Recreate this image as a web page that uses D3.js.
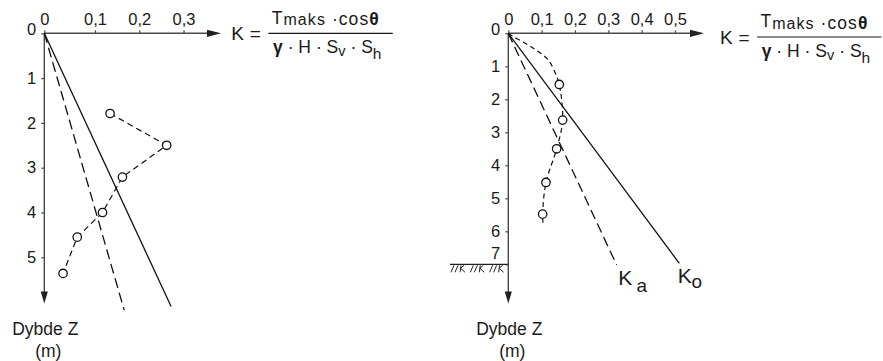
<!DOCTYPE html>
<html><head><meta charset="utf-8">
<script src="https://cdn.jsdelivr.net/npm/d3@7"></script>
<style>
body{margin:0;background:#fff}
svg{display:block}
text{font-family:"Liberation Sans",Arial,Helvetica,sans-serif;fill:#1a1a1a}
</style>
</head><body>
<svg id="c" width="883" height="361"></svg>
<script>
// ---------- DATA ----------
// Left panel
const leftXTicks = [0, 0.1, 0.2, 0.3];
const leftZTicks = [0, 1, 2, 3, 4, 5];
const leftMeasK = [0.134, 0.262, 0.162, 0.117, 0.065, 0.037];
const leftMeasZ = [1.79, 2.50, 3.21, 4.00, 4.55, 5.36];
const leftSolidK = [0, 0.272];
const leftSolidZ = [0, 6.10];
const leftDashK = [0, 0.166];
const leftDashZ = [0, 6.18];
// Right panel
const rightXTicks = [0, 0.1, 0.2, 0.3, 0.4, 0.5];
const rightZTicks = [0, 1, 2, 3, 4, 5, 6, 7];
const rightMeasK = [0.153, 0.163, 0.145, 0.113, 0.103];
const rightMeasZ = [1.55, 2.63, 3.50, 4.52, 5.48];
const rightTrendK = [0, 0.015, 0.075, 0.12, 0.145, 0.153, 0.163, 0.145, 0.113, 0.103, 0.104];
const rightTrendZ = [0, 0.1, 0.45, 0.81, 1.31, 1.55, 2.63, 3.50, 4.52, 5.48, 5.74];
const rightKoK = [0, 0.513];
const rightKoZ = [0, 6.97];
const rightKaK = [0, 0.325];
const rightKaZ = [0, 7.02];
const groundZ = 7;
const lineLabels = ["K", "a", "K", "o"];
const axisTitle = ["Dybde Z", "(m)"];

// ---------- DRAW ----------
const svg = d3.select("#c");
const AX = "#4a4a4a", INK = "#111";
const fmt = d => d === 0 ? "0" : d3.format(".1f")(d).replace(".", ",");
const zip = (a, b) => a.map((v, i) => [v, b[i]]);

function panel(o) {
  const g = svg.append("g");
  const x = o.x, y = o.y;
  const x0 = x(0), y0 = y(0);
  g.append("line").attr("x1", x0).attr("x2", o.xEnd - 13).attr("y1", y0).attr("y2", y0)
    .attr("stroke", AX).attr("stroke-width", 1.4);
  g.append("path").attr("d", `M${o.xEnd},${y0} L${o.xEnd - 14},${y0 - 3.6} L${o.xEnd - 14},${y0 + 3.6} Z`).attr("fill", "#222");
  g.append("line").attr("x1", x0).attr("x2", x0).attr("y1", y0).attr("y2", o.yEnd - 11)
    .attr("stroke", AX).attr("stroke-width", 1.4);
  g.append("path").attr("d", `M${x0},${o.yEnd} L${x0 - 3.6},${o.yEnd - 12} L${x0 + 3.6},${o.yEnd - 12} Z`).attr("fill", "#222");

  const xa = g.append("g").attr("transform", `translate(0,${y0})`)
    .call(d3.axisTop(x).tickValues(o.xTicks).tickSize(3).tickPadding(5).tickFormat(fmt));
  xa.select(".domain").remove();
  xa.selectAll("line").attr("stroke", AX).attr("stroke-width", 1.2);
  xa.selectAll("text").style("font-size", "16.5px").attr("fill", "#1a1a1a");

  const ya = g.append("g").attr("transform", `translate(${x0},0)`)
    .call(d3.axisLeft(y).tickValues(o.zTicks).tickSize(3).tickPadding(5).tickFormat(d3.format("d")));
  ya.select(".domain").remove();
  ya.selectAll("line").attr("stroke", AX).attr("stroke-width", 1.2);
  ya.selectAll("text").style("font-size", "16.5px").attr("fill", "#1a1a1a")
    .attr("dy", d => d === 0 ? "0.1em" : (o.ground !== undefined && d === o.ground ? "-0.35em" : "0.32em"));

  const line = d3.line().x(d => x(d[0])).y(d => y(d[1]));
  o.lines.forEach(l => {
    g.append("path").attr("d", (l.curve ? line.curve(l.curve) : line.curve(d3.curveLinear))(l.pts))
      .attr("fill", "none").attr("stroke", INK).attr("stroke-width", l.w || 1.3)
      .attr("stroke-dasharray", l.dash || null);
  });
  g.selectAll("circle.m").data(o.meas).join("circle").attr("class", "m")
    .attr("cx", d => x(d[0])).attr("cy", d => y(d[1])).attr("r", 4.2)
    .attr("fill", "#fff").attr("stroke", INK).attr("stroke-width", 1.3);

  const t = g.append("text").attr("text-anchor", "middle").style("font-size", "17.5px");
  t.append("tspan").attr("x", x0 + 1).attr("y", 335).text(axisTitle[0]);
  t.append("tspan").attr("x", x0 + 4).attr("y", 356.5).text(axisTitle[1]);
  return g;
}

// Left
const xL = d3.scaleLinear().domain([0, 0.1, 0.3]).range([44.3, 95, 183.5]);
const yL = d3.scaleLinear().domain([0, 5]).range([33.3, 257.3]);
panel({
  x: xL, y: yL, xEnd: 221, yEnd: 303.5, xTicks: leftXTicks, zTicks: leftZTicks,
  lines: [
    { pts: zip(leftSolidK, leftSolidZ) },
    { pts: zip(leftDashK, leftDashZ), dash: "10,5" },
    { pts: zip(leftMeasK, leftMeasZ), dash: "6,4", w: 1.2 }
  ],
  meas: zip(leftMeasK, leftMeasZ)
});

// Right
const xR = d3.scaleLinear().domain([0, 0.5]).range([508.3, 675]);
const yR = d3.scaleLinear().domain([0, 7]).range([33.3, 264.3]);
const gR = panel({
  x: xR, y: yR, xEnd: 704, yEnd: 303.5, xTicks: rightXTicks, zTicks: rightZTicks, ground: groundZ,
  lines: [
    { pts: zip(rightKoK, rightKoZ) },
    { pts: zip(rightKaK, rightKaZ), dash: "10,5" },
    { pts: zip(rightTrendK, rightTrendZ), dash: "5,3.5", w: 1.2, curve: d3.curveCatmullRom.alpha(0.5) }
  ],
  meas: zip(rightMeasK, rightMeasZ)
});

// ground line with hatching
const gy = yR(groundZ);
gR.append("line").attr("x1", 450).attr("x2", xR(0)).attr("y1", gy).attr("y2", gy)
  .attr("stroke", "#222").attr("stroke-width", 1.3);
let hd = "";
for (let i = 0; i < 3; i++) {
  const bx = 451 + i * 19.3;
  hd += `M${bx},${gy + 8} L${bx + 3},${gy + 1} `;
  hd += `M${bx + 4},${gy + 8} L${bx + 7},${gy + 1} `;
  hd += `M${bx + 9},${gy + 8} L${bx + 10},${gy + 1} `;
  hd += `M${bx + 9.6},${gy + 4} L${bx + 13},${gy + 1} `;
  hd += `M${bx + 9.6},${gy + 4} L${bx + 14},${gy + 8} `;
}
gR.append("path").attr("d", hd).attr("stroke", "#222").attr("stroke-width", 1).attr("fill", "none");

// Ka / Ko labels
function kLabel(xk, yk, sub, xs, ys) {
  gR.append("text").attr("x", xk).attr("y", yk).style("font-size", "21px").text(lineLabels[0]);
  gR.append("text").attr("x", xs).attr("y", ys).style("font-size", "19px").text(sub);
}
kLabel(xR(rightKaK[1]) + 1.5, yR(rightKaZ[1]) + 20, lineLabels[1], 636.5, 291.5);
kLabel(xR(rightKoK[1]) - 1.5, yR(rightKoZ[1]) + 19.5, lineLabels[3], 691.5, 288.3);

// formula
function formula(x0, y0) {
  const g = svg.append("g").attr("transform", `translate(${x0},${y0})`);
  g.append("text").attr("x", -37).attr("y", 6.8).style("font-size", "19px").text("K");
  g.append("text").attr("x", -18.5).attr("y", 6.8).style("font-size", "19px").text("=");
  g.append("line").attr("x1", 0).attr("x2", 124.5).attr("y1", 0).attr("y2", 0)
    .attr("stroke", "#1a1a1a").attr("stroke-width", 1.2);
  const n = g.append("text").attr("x", 3.4).attr("y", -9.6).style("font-size", "17.5px")
    .attr("textLength", 107).attr("lengthAdjust", "spacing");
  n.append("tspan").text("T");
  n.append("tspan").attr("dy", 1.2).style("font-size", "16px").text("maks");
  n.append("tspan").text(" \u00B7cos");
  n.append("tspan").style("font-weight", "bold").text("\u03B8");
  const d = g.append("text").attr("x", 4.7).attr("y", 20).style("font-size", "17.5px")
    .attr("textLength", 108.5).attr("lengthAdjust", "spacing");
  d.append("tspan").style("font-weight", "bold").text("\u03B3");
  d.append("tspan").text(" \u00B7 H \u00B7 S");
  d.append("tspan").attr("dy", 3.2).style("font-size", "14.5px").text("v");
  d.append("tspan").attr("dy", -3.2).text(" \u00B7 S");
  d.append("tspan").attr("dy", 5.5).style("font-size", "15.5px").text("h");
}
formula(268.3, 33.3);
formula(757, 37);
</script>
</body></html>
